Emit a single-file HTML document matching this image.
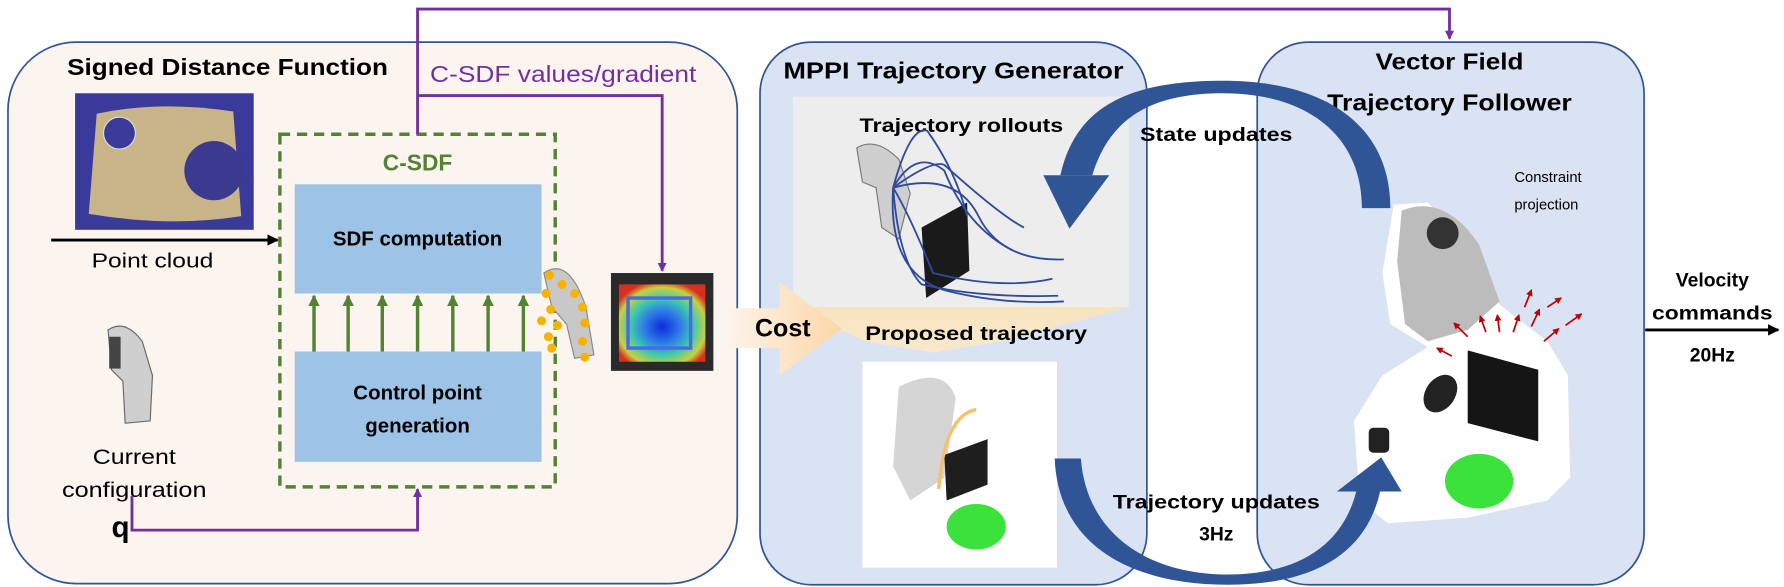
<!DOCTYPE html>
<html><head><meta charset="utf-8"><style>
html,body{margin:0;padding:0;background:#fff;}
svg{display:block;}
text{font-family:"Liberation Sans",sans-serif;}
</style></head><body>
<svg width="1784" height="587" viewBox="0 0 1568 516" preserveAspectRatio="none" xmlns="http://www.w3.org/2000/svg">
<defs>
<marker id="ap" markerWidth="8" markerHeight="8" refX="7" refY="4" orient="auto" markerUnits="userSpaceOnUse"><path d="M0,0 L8,4 L0,8 z" fill="#7030a0"/></marker>
<marker id="ag" markerWidth="10" markerHeight="10" refX="9" refY="5" orient="auto" markerUnits="userSpaceOnUse"><path d="M0,0 L10,5 L0,10 z" fill="#548235"/></marker>
<marker id="ak" markerWidth="10" markerHeight="10" refX="9" refY="5" orient="auto" markerUnits="userSpaceOnUse"><path d="M0,0 L10,5 L0,10 z" fill="#000"/></marker>
<marker id="ar" markerWidth="6" markerHeight="6" refX="5" refY="3" orient="auto" markerUnits="userSpaceOnUse"><path d="M0,0 L6,3 L0,6 z" fill="#c00000"/></marker>
<linearGradient id="cost" x1="0" x2="1"><stop offset="0" stop-color="#fdf3e8"/><stop offset="1" stop-color="#fbd7a8"/></linearGradient>
<linearGradient id="fun" x1="0" y1="0" x2="0" y2="1"><stop offset="0" stop-color="#fbe3b8"/><stop offset="1" stop-color="#fce9c8"/></linearGradient>
<radialGradient id="heat" cx="0.5" cy="0.55" r="0.6"><stop offset="0" stop-color="#0a2dd8"/><stop offset="0.35" stop-color="#2f7be8"/><stop offset="0.6" stop-color="#3cc8b0"/><stop offset="0.85" stop-color="#c8d040"/><stop offset="1" stop-color="#d83020"/></radialGradient>
</defs>

<rect x="7" y="37" width="641" height="476" rx="60" fill="#fcf4ef" stroke="#2f5597" stroke-width="1.5"/>
<rect x="668" y="37" width="340" height="477" rx="45" fill="#dae3f3" stroke="#2f5597" stroke-width="1.5"/>
<rect x="1105" y="37" width="340" height="477" rx="45" fill="#dae3f3" stroke="#2f5597" stroke-width="1.5"/>

<text x="200" y="66" text-anchor="middle" font-size="20" font-weight="bold" textLength="282" lengthAdjust="spacingAndGlyphs">Signed Distance Function</text>
<rect x="66" y="82" width="157" height="120" fill="#3a3a9a"/>
<path d="M85,100 Q140,88 205,98 L212,190 Q150,200 78,188 Z" fill="#c9b48a"/>
<circle cx="105" cy="117" r="14" fill="#3a3a9a" stroke="#ddd"/><circle cx="188" cy="150" r="26" fill="#3b3a8e"/>
<line x1="45" y1="211" x2="244" y2="211" stroke="#000" stroke-width="2.5" marker-end="url(#ak)"/>
<text x="134" y="235" text-anchor="middle" font-size="18" textLength="107" lengthAdjust="spacingAndGlyphs">Point cloud</text>

<rect x="246" y="118" width="242" height="310" fill="none" stroke="#548235" stroke-width="3" stroke-dasharray="9,6"/>
<text x="367" y="150" text-anchor="middle" font-size="20" font-weight="bold" fill="#548235">C-SDF</text>
<rect x="259" y="162" width="217" height="96" fill="#9dc3e6"/>
<text x="367" y="216" text-anchor="middle" font-size="18" font-weight="bold">SDF computation</text>
<rect x="259" y="309" width="217" height="97" fill="#9dc3e6"/>
<text x="367" y="351" text-anchor="middle" font-size="18" font-weight="bold">Control point</text>
<text x="367" y="380" text-anchor="middle" font-size="18" font-weight="bold">generation</text>
<g stroke="#548235" stroke-width="3" marker-end="url(#ag)">
<line x1="276" y1="309" x2="276" y2="260"/><line x1="306" y1="309" x2="306" y2="260"/><line x1="336" y1="309" x2="336" y2="260"/><line x1="367" y1="309" x2="367" y2="260"/><line x1="398" y1="309" x2="398" y2="260"/><line x1="429" y1="309" x2="429" y2="260"/><line x1="460" y1="309" x2="460" y2="260"/>
</g>
<path d="M478,240 Q500,225 515,270 L522,312 L505,315 L498,285 L485,270 Z" fill="#c8c8c8" stroke="#888"/>
<g fill="#f6b400"><circle cx="483" cy="242" r="4"/><circle cx="494" cy="250" r="4"/><circle cx="505" cy="258" r="4"/><circle cx="480" cy="258" r="4"/><circle cx="484" cy="272" r="4"/><circle cx="476" cy="282" r="4"/><circle cx="490" cy="286" r="4"/><circle cx="512" cy="270" r="4"/><circle cx="514" cy="284" r="4"/><circle cx="482" cy="296" r="4"/><circle cx="485" cy="306" r="4"/><circle cx="512" cy="300" r="4"/><circle cx="514" cy="314" r="4"/></g>
<rect x="537" y="240" width="90" height="86" fill="#2a2a2a"/>
<rect x="544" y="250" width="76" height="68" fill="url(#heat)"/>
<rect x="552" y="262" width="55" height="44" fill="none" stroke="#4a6ae0" stroke-width="3"/>

<path d="M95,290 Q110,280 125,300 L134,330 L132,370 L110,372 L108,335 L98,325 Z" fill="#cfcfcf" stroke="#666"/>
<rect x="96" y="296" width="10" height="28" fill="#444"/>
<text x="118" y="408" text-anchor="middle" font-size="19" textLength="73" lengthAdjust="spacingAndGlyphs">Current</text>
<text x="118" y="437" text-anchor="middle" font-size="19" textLength="127" lengthAdjust="spacingAndGlyphs">configuration</text>
<text x="98" y="472" font-family="Liberation Serif,serif" font-size="26" font-weight="bold">q</text>

<polyline points="116,436 116,466 367,466 367,430" fill="none" stroke="#7030a0" stroke-width="2.5" marker-end="url(#ap)"/>
<polyline points="367,118 367,8 1274,8 1274,34" fill="none" stroke="#7030a0" stroke-width="2.5" marker-end="url(#ap)"/>
<polyline points="367,84 582,84 582,238" fill="none" stroke="#7030a0" stroke-width="2.5" marker-end="url(#ap)"/>
<text x="378" y="72" font-size="20" fill="#7030a0" textLength="234" lengthAdjust="spacingAndGlyphs">C-SDF values/gradient</text>

<text x="838" y="69" text-anchor="middle" font-size="20" font-weight="bold" textLength="299" lengthAdjust="spacingAndGlyphs">MPPI Trajectory Generator</text>
<rect x="697" y="85" width="295" height="185" fill="#ededed"/>
<text x="845" y="116" text-anchor="middle" font-size="17" font-weight="bold" textLength="179" lengthAdjust="spacingAndGlyphs">Trajectory rollouts</text>
<path d="M753,130 Q770,120 790,140 L800,170 L790,210 L775,200 L770,165 L758,160 Z" fill="#cfcfcf" stroke="#777"/>
<path d="M810,200 L850,178 L852,238 L814,262 Z" fill="#1a1a1a"/>
<g fill="none" stroke="#2f4a9a" stroke-width="1.6">
<path d="M785,165 Q800,110 815,115 Q840,150 850,190"/>
<path d="M785,165 Q820,140 830,145 Q880,190 900,200"/>
<path d="M785,165 Q840,150 860,190 Q880,230 935,228"/>
<path d="M785,165 Q800,190 820,240 Q880,255 925,245"/>
<path d="M785,165 Q790,230 810,250 Q860,262 930,260"/>
<path d="M785,165 Q780,240 830,255 Q880,268 935,265"/>
<path d="M785,165 Q805,130 830,150 Q850,200 890,220"/>
</g>
<path d="M697,270 L992,270 L880,300 L820,310 L760,300 Z" fill="url(#fun)" opacity="0.9"/>
<path d="M641,271 L685,271 L685,248 L740,289 L685,330 L685,306 L641,306 Z" fill="url(#cost)"/>
<text x="688" y="296" text-anchor="middle" font-size="22" font-weight="bold">Cost</text>
<text x="858" y="299" text-anchor="middle" font-size="17" font-weight="bold" textLength="195" lengthAdjust="spacingAndGlyphs">Proposed trajectory</text>
<rect x="758" y="318" width="171" height="181" fill="#fff"/>
<path d="M790,340 Q830,320 840,350 L830,420 L800,440 L785,410 Z" fill="#d5d5d5"/>
<path d="M830,400 L868,386 L868,426 L832,440 Z" fill="#1e1e1e"/>
<path d="M858,360 Q830,365 825,430" fill="none" stroke="#f7c070" stroke-width="3"/>
<ellipse cx="858" cy="463" rx="26" ry="20" fill="#3be23b"/>

<text x="1274" y="61" text-anchor="middle" font-size="20" font-weight="bold" textLength="130" lengthAdjust="spacingAndGlyphs">Vector Field</text>
<text x="1274" y="97" text-anchor="middle" font-size="20" font-weight="bold" textLength="215" lengthAdjust="spacingAndGlyphs">Trajectory Follower</text>
<text x="1331" y="160" font-size="13">Constraint</text>
<text x="1331" y="184" font-size="13">projection</text>
<path d="M1225,180 L1255,178 L1290,215 L1318,268 L1360,300 L1378,330 L1380,420 L1360,440 L1290,455 L1220,460 L1195,440 L1190,370 L1215,330 L1255,305 L1222,285 L1215,240 Z" fill="#fff"/>
<path d="M1232,185 Q1270,170 1300,215 L1318,265 L1290,290 L1255,300 L1235,285 L1228,230 Z" fill="#bcbcbc"/>
<circle cx="1268" cy="205" r="14" fill="#333"/>
<path d="M1290,308 L1352,325 L1352,388 L1290,372 Z" fill="#151515"/>
<ellipse cx="1300" cy="423" rx="30" ry="24" fill="#3be23b"/>
<ellipse cx="1266" cy="346" rx="13" ry="18" fill="#222" transform="rotate(35 1266 346)"/>
<rect x="1203" y="376" width="18" height="22" rx="4" fill="#222"/>
<g stroke="#c00000" stroke-width="1.5" marker-end="url(#ar)">
<line x1="1290" y1="296" x2="1278" y2="284"/><line x1="1306" y1="292" x2="1301" y2="278"/><line x1="1318" y1="292" x2="1316" y2="277"/><line x1="1330" y1="292" x2="1335" y2="277"/><line x1="1346" y1="287" x2="1353" y2="272"/><line x1="1340" y1="270" x2="1346" y2="255"/><line x1="1360" y1="270" x2="1372" y2="262"/><line x1="1376" y1="286" x2="1390" y2="276"/><line x1="1357" y1="300" x2="1370" y2="289"/><line x1="1276" y1="313" x2="1263" y2="306"/>
</g>

<path d="M932,154 C945,95 990,71 1075,71 C1165,71 1222,110 1222,183 L1197,183 C1197,120 1150,82 1075,82 C1010,82 975,105 960,154 Z" fill="#2f5597"/>
<path d="M917,154 L975,154 L940,201 Z" fill="#2f5597"/>
<path d="M927,403 L950,403 C955,470 1010,505 1079,505 C1140,505 1180,480 1192,432 L1213,432 C1200,490 1150,514 1079,514 C995,514 930,480 927,403 Z" fill="#2f5597"/>
<path d="M1175,432 L1232,432 L1214,402 Z" fill="#2f5597"/>
<text x="1069" y="124" text-anchor="middle" font-size="17" font-weight="bold" textLength="134" lengthAdjust="spacingAndGlyphs">State updates</text>
<text x="1069" y="447" text-anchor="middle" font-size="17" font-weight="bold" textLength="182" lengthAdjust="spacingAndGlyphs">Trajectory updates</text>
<text x="1069" y="475" text-anchor="middle" font-size="17" font-weight="bold">3Hz</text>

<text x="1505" y="252" text-anchor="middle" font-size="17" font-weight="bold">Velocity</text>
<text x="1505" y="281" text-anchor="middle" font-size="17" font-weight="bold" textLength="106" lengthAdjust="spacingAndGlyphs">commands</text>
<text x="1505" y="318" text-anchor="middle" font-size="17" font-weight="bold">20Hz</text>
<line x1="1446" y1="290" x2="1563" y2="290" stroke="#000" stroke-width="2.5" marker-end="url(#ak)"/>
</svg>
</body></html>
